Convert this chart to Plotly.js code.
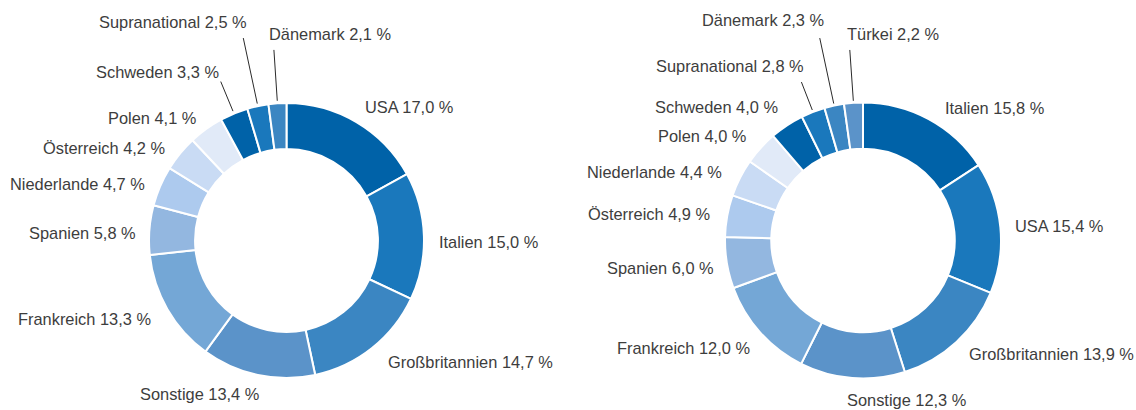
<!DOCTYPE html>
<html><head><meta charset="utf-8">
<script src="https://cdn.plot.ly/plotly-3.0.1.min.js"></script>
<style>html,body{margin:0;padding:0;background:#fff}#chart{width:1136px;height:410px}</style>
</head><body><div id="chart"></div>
<script>
// ---- data ----
const leftLabels = ['USA','Italien','Großbritannien','Sonstige','Frankreich','Spanien','Niederlande','Österreich','Polen','Schweden','Supranational','Dänemark'];
const leftValues = [17.0,15.0,14.7,13.4,13.3,5.8,4.7,4.2,4.1,3.3,2.5,2.1];
const rightLabels = ['Italien','USA','Großbritannien','Sonstige','Frankreich','Spanien','Österreich','Niederlande','Polen','Schweden','Supranational','Dänemark','Türkei'];
const rightValues = [15.8,15.4,13.9,12.3,12.0,6.0,4.9,4.4,4.0,4.0,2.8,2.3,2.2];
const palette = ['#0062a8','#1a78bc','#3b86c2','#5b93c9','#74a7d6','#93b7e0','#adcaee','#c9dbf4','#e1eaf8'];

// ---- layout config ----
const W = 1136, H = 410;
const LABEL_R = 151, LEADER_START = 140;
const charts = [
  {labels:leftLabels, values:leftValues, cx:286.5, cy:240.5, R:137.5,
   leaders:{'Schweden':172,'Supranational':207,'Dänemark':191},
   nudge:{'USA':[0,-3.5],'Italien':[0,6],'Großbritannien':[6,3],'Sonstige':[6.5,6],'Frankreich':[-3,3],
          'Spanien':[2,4],'Niederlande':[-1,3],'Österreich':[-3,3],'Polen':[0,0],
          'Schweden':[0,-10,'right'],'Supranational':[5.5,-16,'right'],'Dänemark':[-7,-16,'left']}},
  {labels:rightLabels, values:rightValues, cx:863, cy:240.5, R:138,
   leaders:{'Supranational':170,'Dänemark':207,'Türkei':191},
   nudge:{'Italien':[8,0],'USA':[0,0],'Großbritannien':[2,2],'Sonstige':[-6,9,'left'],'Frankreich':[2,7],
          'Spanien':[2,3],'Österreich':[-2,0],'Niederlande':[-4,0],'Polen':[-3,-3],'Schweden':[0,-8],
          'Supranational':[4.5,-16,'right'],'Dänemark':[6,-18,'right'],'Türkei':[-5,-16,'left']}}
];

const fmt = v => v.toFixed(1).replace('.', ',') + ' %';
const px2x = x => x / W, py2y = y => 1 - y / H;
const font = {family:'Liberation Sans, Arial, sans-serif', size:16.4, color:'#3d3d3d'};

const traces = [], annotations = [], shapes = [];
charts.forEach(c => {
  traces.push({
    type:'pie', labels:c.labels, values:c.values, sort:false, direction:'clockwise', rotation:0,
    hole:0.665, textinfo:'none', hoverinfo:'none', showlegend:false,
    marker:{colors:c.labels.map((_,i)=>palette[i%palette.length]), line:{color:'#ffffff', width:2}},
    domain:{x:[px2x(c.cx-c.R), px2x(c.cx+c.R)], y:[py2y(c.cy+c.R), py2y(c.cy-c.R)]}
  });
  const total = c.values.reduce((a,b)=>a+b,0);
  let cum = 0;
  c.values.forEach((v,i) => {
    const lab = c.labels[i];
    const th = (cum + v/2) / total * 2 * Math.PI;
    cum += v;
    const s = Math.sin(th), co = Math.cos(th);
    const n = c.nudge[lab] || [0,0];
    let x, y, anchor;
    if (c.leaders[lab]) {
      const rEnd = c.leaders[lab];
      const x0 = c.cx + LEADER_START*s, y0 = c.cy - LEADER_START*co;
      const x1 = c.cx + rEnd*s, y1 = c.cy - rEnd*co;
      shapes.push({type:'line', xref:'paper', yref:'paper', x0:px2x(x0), y0:py2y(y0), x1:px2x(x1), y1:py2y(y1),
        line:{color:'#2a2a2a', width:1}});
      x = x1 + n[0]; y = y1 + n[1]; anchor = n[2];
    } else {
      x = c.cx + LABEL_R*s + n[0]; y = c.cy - LABEL_R*co + n[1];
      anchor = n[2] || (s >= 0 ? 'left' : 'right');
    }
    annotations.push({text: lab + ' ' + fmt(v), xref:'paper', yref:'paper', x:px2x(x), y:py2y(y),
      xanchor:anchor, yanchor:'middle', showarrow:false, font:font});
  });
});

Plotly.newPlot('chart', traces, {
  width:W, height:H, margin:{l:0,r:0,t:0,b:0}, paper_bgcolor:'#ffffff', plot_bgcolor:'#ffffff',
  annotations:annotations, shapes:shapes
}, {staticPlot:true, displayModeBar:false});
</script>
</body></html>
